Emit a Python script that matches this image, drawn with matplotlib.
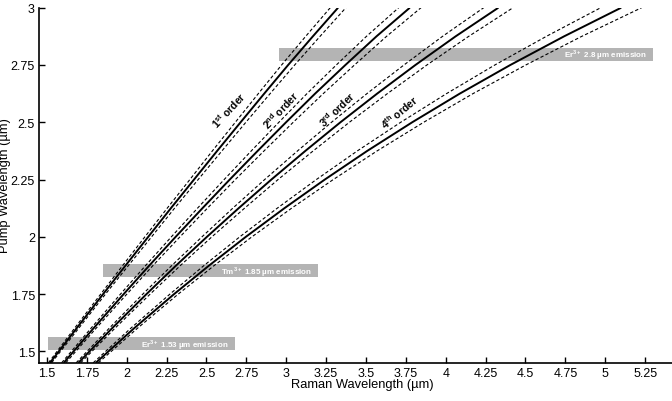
import matplotlib
matplotlib.use("Agg")
import matplotlib.pyplot as plt

plt.rcParams['font.family'] = ['Liberation Sans', 'DejaVu Sans']
plt.rcParams['mathtext.fontset'] = 'custom'
plt.rcParams['mathtext.rm'] = 'Liberation Sans'
plt.rcParams['mathtext.bf'] = 'Liberation Sans:bold'

# Pump wavelength levels (um)
pump = [1.45, 1.6, 1.75, 1.875, 2.0, 2.125, 2.25, 2.375, 2.5, 2.625, 2.75, 2.875, 3.0]

# Raman (Stokes) wavelength of each order at those pump levels (um)
order1 = [1.519, 1.685, 1.852, 1.993, 2.135, 2.277, 2.422, 2.567, 2.714, 2.862, 3.012, 3.167, 3.325]
order2 = [1.605, 1.791, 1.981, 2.142, 2.307, 2.475, 2.646, 2.821, 2.999, 3.181, 3.371, 3.566, 3.775]
order3 = [1.697, 1.907, 2.124, 2.310, 2.503, 2.702, 2.907, 3.120, 3.340, 3.570, 3.810, 4.062, 4.330]
order4 = [1.806, 2.045, 2.297, 2.517, 2.747, 2.989, 3.242, 3.508, 3.790, 4.088, 4.405, 4.742, 5.100]

# Half-width of the dashed band around each order (um)
band1 = [0.010, 0.013, 0.015, 0.018, 0.021, 0.023, 0.026, 0.030, 0.033, 0.037, 0.041, 0.045, 0.049]
band2 = [0.013, 0.016, 0.020, 0.023, 0.027, 0.031, 0.035, 0.040, 0.045, 0.051, 0.057, 0.063, 0.070]
band3 = [0.014, 0.018, 0.023, 0.027, 0.031, 0.037, 0.042, 0.049, 0.056, 0.064, 0.072, 0.082, 0.092]
band4 = [0.016, 0.021, 0.026, 0.032, 0.038, 0.045, 0.053, 0.062, 0.072, 0.083, 0.097, 0.111, 0.128]

order_labels = [r"1$^{\mathbf{st}}$ order", r"2$^{\mathbf{nd}}$ order",
                r"3$^{\mathbf{rd}}$ order", r"4$^{\mathbf{th}}$ order"]
label_x = [2.64, 2.967, 3.32, 3.71]
label_y = [2.557, 2.557, 2.56, 2.548]
label_rot = [47, 47, 44, 40]

# Emission bands: centre wavelength, x extent
emis_labels = [r"Er$^{\mathbf{3+}}$ 1.53 µm emission",
               r"Tm$^{\mathbf{3+}}$ 1.85 µm emission",
               r"Er$^{\mathbf{3+}}$ 2.8 µm emission"]
emis_center = [1.533, 1.852, 2.797]
emis_start = [1.506, 1.851, 2.953]
emis_end = [2.679, 3.199, 5.30]

xticks = [1.5, 1.75, 2, 2.25, 2.5, 2.75, 3, 3.25, 3.5, 3.75, 4, 4.25, 4.5, 4.75, 5, 5.25]
xticklabels = ["1.5", "1.75", "2", "2.25", "2.5", "2.75", "3", "3.25", "3.5", "3.75",
               "4", "4.25", "4.5", "4.75", "5", "5.25"]
yticks = [1.5, 1.75, 2, 2.25, 2.5, 2.75, 3]
yticklabels = ["1.5", "1.75", "2", "2.25", "2.5", "2.75", "3"]

fig = plt.figure(figsize=(6.72, 4.02), dpi=100)
ax = fig.add_axes([39 / 672, 38.2 / 402, 646 / 672, 355.1 / 402])

bar_h = 0.055
for c, s, e, lab in zip(emis_center, emis_start, emis_end, emis_labels):
    ax.barh(c, e - s, left=s, height=bar_h, color='#b4b4b4', zorder=1)
    ax.text(e - 0.04, c, lab, color='white', fontsize=5.8, fontweight='bold',
            ha='right', va='center', zorder=2)

orders = [order1, order2, order3, order4]
bands = [band1, band2, band3, band4]
for o, b in zip(orders, bands):
    lo = [v - w for v, w in zip(o, b)]
    hi = [v + w for v, w in zip(o, b)]
    ax.plot(o, pump, color='black', lw=1.4, zorder=4, solid_capstyle='butt')
    ax.plot(lo, pump, color='black', lw=0.8, ls=(0, (3, 2)), zorder=3)
    ax.plot(hi, pump, color='black', lw=0.8, ls=(0, (3, 2)), zorder=3)

for lab, x, y, r in zip(order_labels, label_x, label_y, label_rot):
    ax.text(x, y, lab, fontsize=7.5, fontweight='bold', rotation=r,
            rotation_mode='anchor', ha='center', va='center', zorder=5)

ax.set_xlim(1.45, 5.5)
ax.set_ylim(1.45, 3.0)
ax.set_xticks(xticks)
ax.set_xticklabels(xticklabels)
ax.set_yticks(yticks)
ax.set_yticklabels(yticklabels)
ax.tick_params(direction='in', length=4, width=1.0, labelsize=9, pad=3)
for side in ['top', 'right']:
    ax.spines[side].set_visible(False)
for side in ['left', 'bottom']:
    ax.spines[side].set_linewidth(1.2)

ax.set_xlabel("Raman Wavelength (µm)", fontsize=9.3, labelpad=-1)
fig.text(5 / 672, 1 - 186 / 402, "Pump Wavelength (µm)", rotation=90,
         fontsize=9.3, ha='center', va='center')

fig.savefig("out.png", dpi=100)
